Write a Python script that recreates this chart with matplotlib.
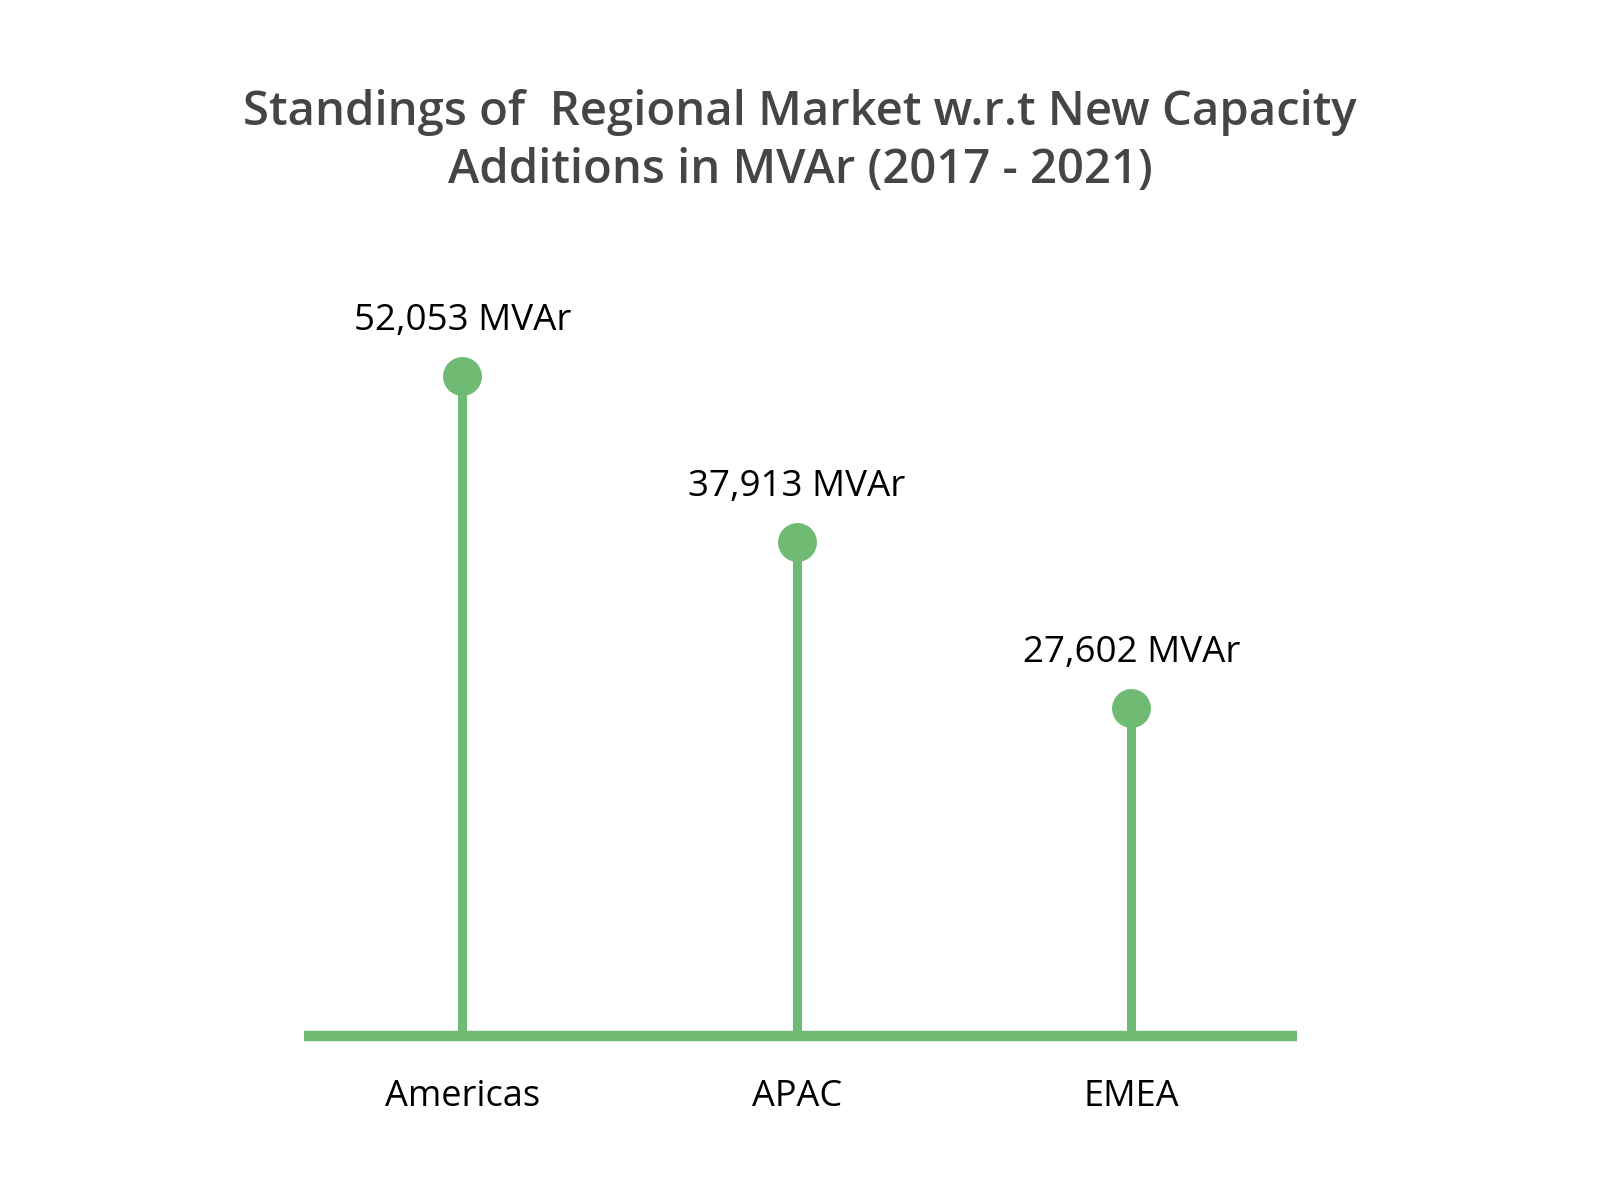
import matplotlib
matplotlib.use('Agg')
import matplotlib.pyplot as plt

regions = ['Americas', 'APAC', 'EMEA']
capacity = [52053, 37913, 27602]
value_labels = ['52,053 MVAr', '37,913 MVAr', '27,602 MVAr']

green = '#6fbb74'
plt.rcParams['font.family'] = ['Open Sans', 'DejaVu Sans']

fig = plt.figure(figsize=(16, 12), dpi=100)
ax = fig.add_axes([0.19, 0.1363, 0.6206, 0.6512])

# no y axis is shown; a log scale places the three heads like the original
base = 14740
ax.set_yscale('log')
ax.set_xlim(-0.473, 2.495)
ax.set_ylim(base, 65660)

x = range(len(regions))
ax.vlines(x, base, capacity, color=green, linewidth=6.5)
ax.plot(x, capacity, 'o', color=green, markersize=27, zorder=3)
ax.axhline(base, color=green, linewidth=7.5, solid_capstyle='butt', clip_on=False)

for xi, v, lab in zip(x, capacity, value_labels):
    ax.annotate(lab, (xi, v), xytext=(0, 40), textcoords='offset points',
                ha='center', va='center', fontsize=26.5, color='black')

ax.set_xticks(list(x))
ax.set_xticklabels(regions, fontsize=26)
ax.tick_params(axis='x', length=0, pad=31)
ax.set_yticks([])
ax.minorticks_off()
for s in ax.spines.values():
    s.set_visible(False)

fig.text(0.5, 0.882, 'Standings of  Regional Market w.r.t New Capacity\nAdditions in MVAr (2017 - 2021)',
         ha='center', va='center', fontsize=34, fontweight='semibold', color='#454545',
         linespacing=1.32)

fig.savefig('out.png', dpi=100)
